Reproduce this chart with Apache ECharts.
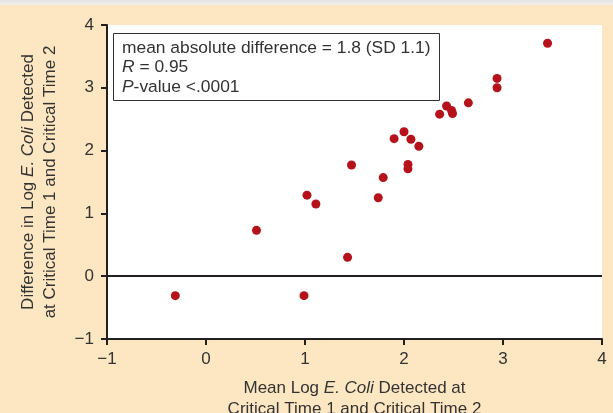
<!DOCTYPE html>
<html><head><meta charset="utf-8">
<script src="https://cdn.jsdelivr.net/npm/echarts@6/dist/echarts.min.js"></script>
<style>
html,body{margin:0;padding:0;background:#fde7c2;}
#top{position:absolute;left:0;top:0;width:613px;height:5px;background:linear-gradient(#e4e4e4,#f0efec);}
#c{width:613px;height:413px;}
</style></head><body>
<div id="c"></div><div id="top"></div>
<script>
const meanLog = [-0.31,0.51,0.99,1.02,1.11,1.43,1.47,1.74,1.79,1.90,2.00,2.04,2.04,2.07,2.15,2.36,2.43,2.48,2.49,2.65,2.94,2.94,3.45];
const diffLog = [-0.31,0.73,-0.31,1.29,1.15,0.30,1.77,1.25,1.57,2.19,2.30,1.78,1.71,2.18,2.07,2.58,2.71,2.64,2.59,2.76,3.15,3.00,3.71];
const xTicks = [-1,0,1,2,3,4];
const yTicks = [-1,0,1,2,3,4];
const statLines = ['mean absolute difference = 1.8 (SD 1.1)', '{i|R} = 0.95', '{i|P}-value <.0001'];

const font = '"Liberation Sans", Arial, sans-serif';
const txt = '#333';
const fs = 17;
const chart = echarts.init(document.getElementById('c'));
chart.setOption({
  backgroundColor: '#fde7c2',
  animation: false,
  grid: {left:107, right:11, top:25, bottom:74, show:true, backgroundColor:'#fff', borderWidth:0,
    containLabel:false, outerBoundsMode:'none'},
  xAxis: {
    type:'value', min:xTicks[0], max:xTicks[xTicks.length-1], interval:1,
    axisLine:{onZero:false, lineStyle:{color:'#231f20', width:2}},
    axisTick:{show:true, length:6, lineStyle:{color:'#231f20', width:2}},
    axisLabel:{color:txt, fontSize:fs, fontFamily:font, margin:12,
      formatter: v => v < 0 ? '\u2212' + Math.abs(v) : String(v)},
    splitLine:{show:false},
    name:'Mean Log {i|E. Coli} Detected at\nCritical Time 1 and Critical Time 2',
    nameLocation:'middle', nameGap:39,
    nameTextStyle:{color:txt, fontSize:fs, fontFamily:font, lineHeight:21,
      rich:{i:{fontStyle:'italic', color:txt, fontSize:fs, fontFamily:font}}}
  },
  yAxis: {
    type:'value', min:yTicks[0], max:yTicks[yTicks.length-1], interval:1,
    axisLine:{onZero:false, lineStyle:{color:'#231f20', width:2}},
    axisTick:{show:true, length:6, lineStyle:{color:'#231f20', width:2}},
    axisLabel:{color:txt, fontSize:fs, fontFamily:font, margin:13,
      formatter: v => v < 0 ? '\u2212' + Math.abs(v) : String(v)},
    splitLine:{show:false},
    name:'Difference in Log {i|E. Coli} Detected\nat Critical Time 1 and Critical Time 2',
    nameLocation:'middle', nameGap:46, nameRotate:90,
    nameTextStyle:{color:txt, fontSize:fs, fontFamily:font, lineHeight:22,
      rich:{i:{fontStyle:'italic', color:txt, fontSize:fs, fontFamily:font}}}
  },
  series: [{
    type:'scatter',
    data: meanLog.map((x,i)=>[x, diffLog[i]]),
    symbolSize:9,
    itemStyle:{color:'#b5121b', opacity:1},
    markLine:{silent:true, symbol:['none','none'], label:{show:false},
      lineStyle:{color:'#231f20', width:2, type:'solid'},
      data:[{yAxis:0}]}
  }],
  graphic: [
    {type:'rect', left:113, top:33, shape:{width:326, height:67},
      style:{fill:'#fff', stroke:'#333', lineWidth:1}},
    {type:'text', left:122, top:38,
      style:{text: statLines.join('\n'), fill:txt, fontSize:17.4, fontFamily:font, lineHeight:19.5,
        rich:{i:{fontStyle:'italic', fill:txt, fontSize:17.4, fontFamily:font, lineHeight:19.5}}}}
  ]
});
</script></body></html>
